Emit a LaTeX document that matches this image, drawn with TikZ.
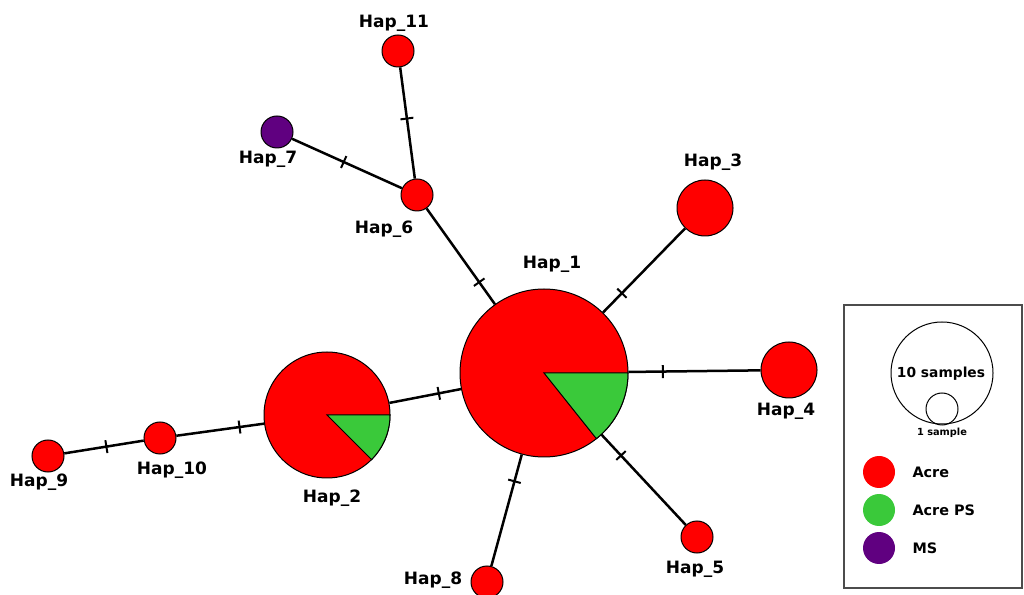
\documentclass[tikz,border=0pt]{standalone}
\usepackage{fontspec}
\setmainfont{DejaVu Sans}
\usepackage{tikz}

\definecolor{acre}{RGB}{255,0,0}
\definecolor{acreps}{RGB}{58,201,58}
\definecolor{ms}{RGB}{96,0,128}

\begin{document}
\begin{tikzpicture}[x=1pt,y=1pt,
		hap/.style={circle,draw,line width=1pt,inner sep=0pt},
		edge/.style={line width=2.5pt},
		mut/.style={sloped,draw,line width=2pt,inner sep=0pt,minimum width=0pt,minimum height=13pt},
		lab/.style={font=\fontsize{17}{20}\selectfont\bfseries}]
			\useasboundingbox (0,0) rectangle (1024,594);

			% Haplotipos
			\node at (544,221) [hap,fill=acre,minimum size=168pt] (h1) {};
			\node at (327,179) [hap,fill=acre,minimum size=126pt] (h2) {};
			\node at (705,386) [hap,fill=acre,minimum size=56pt] (h3) {};
			\node at (789,224) [hap,fill=acre,minimum size=56pt] (h4) {};
			\node at (697,57) [hap,fill=acre,minimum size=32pt] (h5) {};
			\node at (417,399) [hap,fill=acre,minimum size=32pt] (h6) {};
			\node at (277,462) [hap,fill=ms,minimum size=32pt] (h7) {};
			\node at (487,12) [hap,fill=acre,minimum size=32pt] (h8) {};
			\node at (48,138) [hap,fill=acre,minimum size=32pt] (h9) {};
			\node at (160,156) [hap,fill=acre,minimum size=32pt] (h10) {};
			\node at (398,543) [hap,fill=acre,minimum size=32pt] (h11) {};

			% Sectores Acre PS
			\draw[line width=1pt,fill=acreps] (h1.center) -- ++(0:84pt) arc[start angle=0,end angle=-51.43,radius=84pt] -- cycle;
			\draw[line width=1pt,fill=acreps] (h2.center) -- ++(0:63pt) arc[start angle=0,end angle=-45,radius=63pt] -- cycle;

			% Conexiones con mutaciones
			\draw[edge] (h1) -- node[mut,pos=0.31] {} (h2);
			\draw[edge] (h2) -- node[mut,pos=0.28] {} (h10);
			\draw[edge] (h10) -- node[mut,pos=0.47] {} (h9);
			\draw[edge] (h1) -- node[mut,pos=0.23] {} (h6);
			\draw[edge] (h6) -- node[mut,pos=0.54] {} (h11);
			\draw[edge] (h6) -- node[mut,pos=0.53] {} (h7);
			\draw[edge] (h1) -- node[mut,pos=0.23] {} (h3);
			\draw[edge] (h1) -- node[mut,pos=0.26] {} (h4);
			\draw[edge] (h1) -- node[mut,pos=0.23] {} (h5);
			\draw[edge] (h1) -- node[mut,pos=0.24] {} (h8);

			% Etiquetas
			\node at (552,330) [lab] (l1) {Hap\_1};
			\node at (332,96) [lab] (l2) {Hap\_2};
			\node at (713,432) [lab] (l3) {Hap\_3};
			\node at (786,183) [lab] (l4) {Hap\_4};
			\node at (695,25) [lab] (l5) {Hap\_5};
			\node at (384,365) [lab] (l6) {Hap\_6};
			\node at (268,435) [lab] (l7) {Hap\_7};
			\node at (433,14) [lab] (l8) {Hap\_8};
			\node at (39,112) [lab] (l9) {Hap\_9};
			\node at (172,124) [lab] (l10) {Hap\_10};
			\node at (394,571) [lab] (l11) {Hap\_11};

			% Leyenda
			\draw[line width=1.5pt,black!70] (844,6) rectangle (1022,289);
			\node at (942,221) [circle,draw,line width=1pt,minimum size=102pt,inner sep=0pt] (big) {};
			\node at (941,220) [font=\fontsize{13.8}{16}\selectfont\bfseries] (tbig) {10 samples};
			\node at (942,185) [circle,draw,line width=1pt,minimum size=32pt,inner sep=0pt] (small) {};
			\node at (942,161) [font=\fontsize{9.8}{12}\selectfont\bfseries] (tsmall) {1 sample};
			\node at (879,122) [circle,fill=acre,minimum size=32pt,inner sep=0pt] (kacre) {};
			\node at (879,84) [circle,fill=acreps,minimum size=32pt,inner sep=0pt] (kacreps) {};
			\node at (879,46) [circle,fill=ms,minimum size=32pt,inner sep=0pt] (kms) {};
			\node at (909,122) [anchor=west,font=\fontsize{14.4}{17}\selectfont\bfseries] (tacre) {Acre};
			\node at (909,84) [anchor=west,font=\fontsize{14.4}{17}\selectfont\bfseries] (tacreps) {Acre PS};
			\node at (909,46) [anchor=west,font=\fontsize{14.4}{17}\selectfont\bfseries] (tms) {MS};
		\end{tikzpicture}
\end{document}
